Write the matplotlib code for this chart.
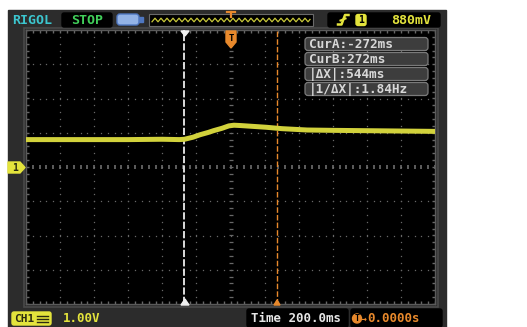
import numpy as np
import matplotlib
matplotlib.use('Agg')
import matplotlib.pyplot as plt
from matplotlib.patches import Rectangle, FancyBboxPatch, Polygon

# Channel 1 trace (seconds, volts)
trace_t = [-1.20, -0.90, -0.60, -0.40, -0.30, -0.27, -0.22, -0.18, -0.13,
           -0.10, -0.05, -0.01, 0.02, 0.06, 0.12, 0.21, 0.30, 0.45,
           0.60, 0.80, 1.00, 1.20]
trace_v = [0.80, 0.80, 0.80, 0.81, 0.80, 0.81, 0.87, 0.94, 1.01,
           1.06, 1.13, 1.20, 1.22, 1.21, 1.19, 1.16, 1.12, 1.08,
           1.07, 1.06, 1.05, 1.04]

cursor_a = -0.272
cursor_b = 0.272
cursor_labels = ['CurA:-272ms', 'CurB:272ms', '|\u0394X|:544ms', '|1/\u0394X|:1.84Hz']

time_per_div = 0.2
volt_per_div = 1.0
trig_level = '880mV'
scale_label = '1.00V'
time_label = 'Time 200.0ms'
trig_pos_label = '0.0000s'

W, H = 527, 327
MONO = 'DejaVu Sans Mono'
YEL = '#e4e43c'
ORANGE = '#e8892c'
BEZEL = '#2c2c2c'


def pixel_axes(fig):
    a = fig.add_axes([0, 0, 1, 1])
    a.set_xlim(0, W)
    a.set_ylim(H, 0)
    a.axis('off')
    return a


fig = plt.figure(figsize=(W / 100, H / 100), dpi=100)
fig.patch.set_facecolor('white')

# pixel-space layer for the instrument frame
bg = pixel_axes(fig)
bg.add_patch(Rectangle((8, 10), 438, 317, color=BEZEL, zorder=0))
bg.add_patch(Rectangle((24, 28), 414, 279, facecolor='none', edgecolor='#4a4a4a', lw=1.2, zorder=1))

# top bar
bg.text(12, 20, 'RIGOL', color='#3cc6cf', family=MONO, fontweight='bold', fontsize=9.5, va='center')
bg.add_patch(FancyBboxPatch((62, 13), 50, 14, boxstyle='round,pad=0,rounding_size=2', color='black', zorder=1))
bg.text(87, 20, 'STOP', color='#41cf5a', family=MONO, fontweight='bold', fontsize=9.5, va='center', ha='center', zorder=2)
bg.add_patch(FancyBboxPatch((117, 14), 22, 11, boxstyle='round,pad=0,rounding_size=3',
                            facecolor='#93b3e6', edgecolor='#4f77c0', lw=1, zorder=2))
bg.add_patch(Rectangle((139, 17), 4, 5, color='#4f77c0', zorder=2))

bg.add_patch(Rectangle((149, 14), 164, 12, facecolor='black', edgecolor='#6a6a6a', lw=0.8, zorder=1))
zx = np.arange(152, 311, 1.0)
zy = 20 + 1.8 * np.abs(((zx - 152) % 6) - 3) / 3 * 2 - 1.8
bg.plot(zx, zy, color='#c9c93a', lw=0.9, zorder=2)
bg.plot([227, 235], [11.5, 11.5], color=ORANGE, lw=1.6, zorder=3)
bg.plot([231, 231], [11.5, 17], color=ORANGE, lw=1.6, zorder=3)

bg.add_patch(FancyBboxPatch((328, 13), 112, 14, boxstyle='round,pad=0,rounding_size=2', color='black', zorder=1))
bg.plot([338, 341.5, 345, 348.5], [24.5, 24.5, 15, 15], color=YEL, lw=1.8, zorder=2)
bg.plot([340.5, 345.5], [20.5, 18.5], color=YEL, lw=1.5, zorder=2)
bg.add_patch(FancyBboxPatch((356, 14.5), 10, 11, boxstyle='round,pad=0,rounding_size=2', color=YEL, zorder=2))
bg.text(361, 20.3, '1', color='black', family=MONO, fontweight='bold', fontsize=7, ha='center', va='center', zorder=3)
bg.text(431, 20, trig_level, color=YEL, family=MONO, fontweight='bold', fontsize=9.5, ha='right', va='center', zorder=2)

# bottom bar
bg.add_patch(FancyBboxPatch((12, 312), 39, 13, boxstyle='round,pad=0,rounding_size=2', color=YEL, zorder=2))
bg.text(14, 318.5, 'CH1', color='#2a2a10', family=MONO, fontweight='bold', fontsize=8, va='center', zorder=3)
for yy in (315.5, 318.5, 321.5):
    bg.plot([37, 48], [yy, yy], color='#2a2a10', lw=1.0, zorder=3)
bg.text(63, 318.5, scale_label, color=YEL, family=MONO, fontweight='bold', fontsize=9, va='center')
bg.add_patch(FancyBboxPatch((247, 309), 101, 18, boxstyle='round,pad=0,rounding_size=2', color='black', zorder=1))
bg.text(251, 319, time_label, color='#e6e6e6', family=MONO, fontweight='bold', fontsize=9, va='center', zorder=2)
bg.add_patch(FancyBboxPatch((351, 309), 91, 18, boxstyle='round,pad=0,rounding_size=2', color='black', zorder=1))
bg.add_patch(plt.Circle((357, 318.5), 4.5, color=ORANGE, zorder=2))
bg.text(357, 318.8, 'T', color='black', family=MONO, fontweight='bold', fontsize=6, ha='center', va='center', zorder=3)
bg.text(361, 318.5, '\u2192', color=ORANGE, family=MONO, fontweight='bold', fontsize=7, va='center', zorder=2)
bg.text(367, 319, trig_pos_label, color=ORANGE, family=MONO, fontweight='bold', fontsize=9, va='center', zorder=2)

# channel ground marker
bg.add_patch(Polygon([(8, 162), (20, 162), (25, 167.5), (20, 173), (8, 173)], closed=True, color=YEL, zorder=3))
bg.text(15, 167.8, '1', color='#2a2a10', family=MONO, fontweight='bold', fontsize=7, ha='center', va='center', zorder=4)

# graticule: 12 x 8 divisions
ax = fig.add_axes([26 / W, 1 - 304 / H, 409 / W, 274 / H])
ax.set_facecolor('black')
xmax = 6 * time_per_div
ymax = 4 * volt_per_div
ax.set_xlim(-xmax, xmax)
ax.set_ylim(-ymax, ymax)
ax.set_xticks([])
ax.set_yticks([])
for s in ax.spines.values():
    s.set_color('#5a5a5a')
    s.set_linewidth(1.0)

dot_c = '#686868'
sub_x = np.arange(-xmax, xmax + 1e-9, time_per_div / 5)
sub_y = np.arange(-ymax, ymax + 1e-9, volt_per_div / 5)
for gx in np.arange(-xmax + time_per_div, xmax - 1e-9, time_per_div):
    if abs(gx) < 1e-9:
        continue
    ax.plot(np.full_like(sub_y, gx), sub_y, ls='none', marker='s', ms=0.9, color=dot_c, mec='none')
for gy in np.arange(-ymax + volt_per_div, ymax - 1e-9, volt_per_div):
    if abs(gy) < 1e-9:
        continue
    ax.plot(sub_x, np.full_like(sub_x, gy), ls='none', marker='s', ms=0.9, color=dot_c, mec='none')
ax.plot(sub_x, np.zeros_like(sub_x), ls='none', marker='|', ms=3, mew=1.1, color='#767676')
ax.plot(np.zeros_like(sub_y), sub_y, ls='none', marker='_', ms=2.4, mew=0.9, color=dot_c)
# ticks along the border
ax.plot(sub_x, np.full_like(sub_x, -ymax + 0.04), ls='none', marker='|', ms=2.5, mew=1, color=dot_c)
ax.plot(sub_x, np.full_like(sub_x, ymax - 0.04), ls='none', marker='|', ms=2.5, mew=1, color=dot_c)
ax.plot(np.full_like(sub_y, -xmax + 0.005), sub_y, ls='none', marker='_', ms=2.5, mew=1, color=dot_c)
ax.plot(np.full_like(sub_y, xmax - 0.005), sub_y, ls='none', marker='_', ms=2.5, mew=1, color=dot_c)

# cursors
ax.axvline(cursor_a, color='#ececec', lw=1.3, ls=(0, (4, 1.2)), zorder=4)
ax.axvline(cursor_b, color=ORANGE, lw=1.0, ls=(0, (4, 1.5)), zorder=4)

# waveform
ax.plot(trace_t, trace_v, color='#d2d23c', lw=3.6, solid_joinstyle='round', zorder=5)

# overlay layer drawn above the graticule
top = pixel_axes(fig)
top.add_patch(Polygon([(181, 31), (189, 31), (185, 36)], color='#f0f0f0', zorder=6))
top.add_patch(Polygon([(181, 305), (189, 305), (185, 299)], color='#f0f0f0', zorder=6))
top.add_patch(Polygon([(274, 305), (280, 305), (277, 300)], color=ORANGE, zorder=6))
top.add_patch(Polygon([(226, 31), (236, 31), (236, 42), (231, 48), (226, 42)], color=ORANGE, zorder=6))
top.text(231, 38.5, 'T', color='black', family=MONO, fontweight='bold', fontsize=6.5, ha='center', va='center', zorder=7)

# cursor readout panel
for i, lab in enumerate(cursor_labels):
    y0 = 37.5 + i * 15
    top.add_patch(FancyBboxPatch((305, y0), 123, 13, boxstyle='round,pad=0,rounding_size=3',
                                 facecolor='#3d3d3d', edgecolor='#7a7a7a', lw=0.9, zorder=6))
    top.text(309, y0 + 6.8, lab, color='#d8d8d8', family=MONO, fontweight='bold', fontsize=9.2,
             va='center', zorder=7)

fig.savefig('out.png', dpi=100, facecolor='white')
